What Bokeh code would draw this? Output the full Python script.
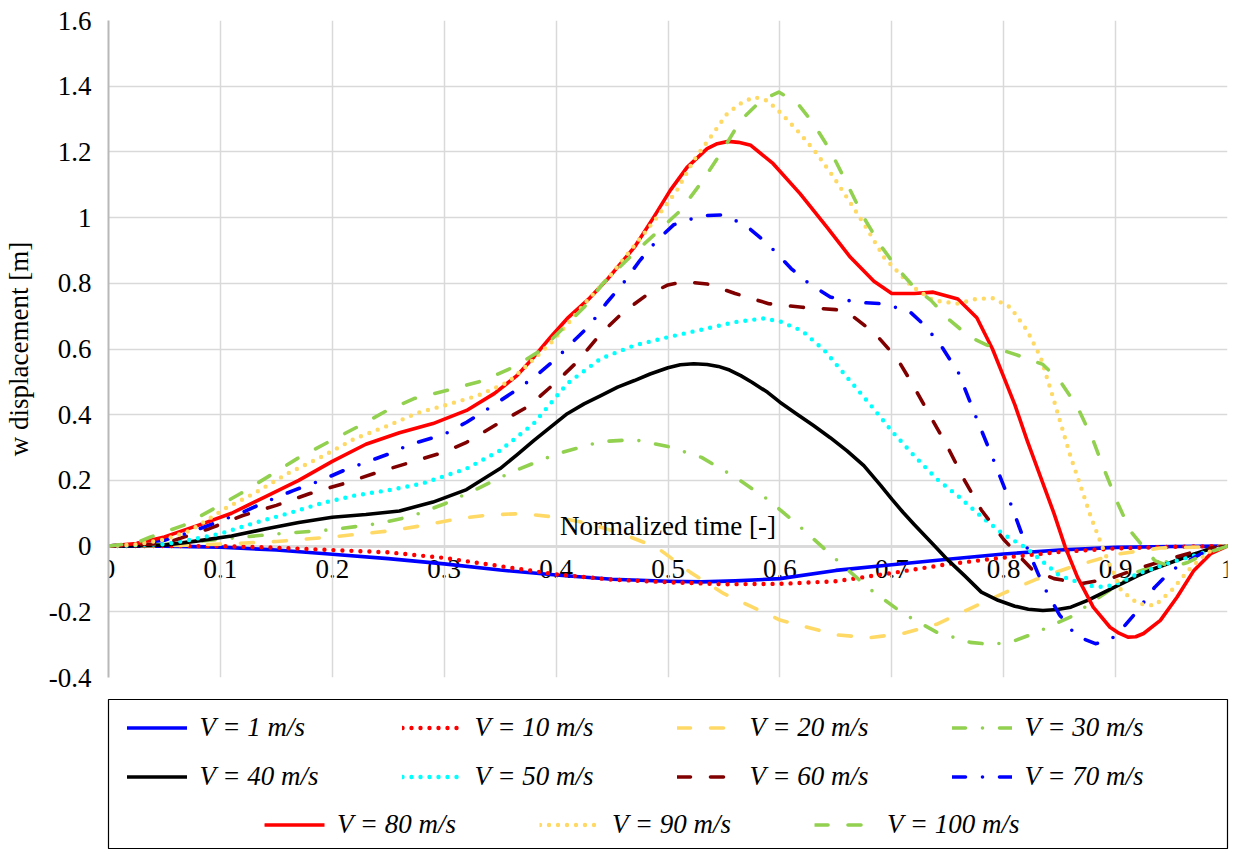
from bokeh.plotting import figure
from bokeh.models import Range1d, FixedTicker, Legend, LegendItem, Label
from bokeh.layouts import column
from bokeh.embed import file_html
from bokeh.resources import INLINE

FONT = "Liberation Serif"

# ---------------- data ----------------
x_ticks = [0, 0.1, 0.2, 0.3, 0.4, 0.5, 0.6, 0.7, 0.8, 0.9, 1]
x_tick_labels = ["0", "0.1", "0.2", "0.3", "0.4", "0.5", "0.6", "0.7", "0.8", "0.9", "1"]
y_ticks = [-0.4, -0.2, 0, 0.2, 0.4, 0.6, 0.8, 1, 1.2, 1.4, 1.6]
y_tick_labels = ["-0.4", "-0.2", "0", "0.2", "0.4", "0.6", "0.8", "1", "1.2", "1.4", "1.6"]

labels = ["V = 1 m/s", "V = 10 m/s", "V = 20 m/s", "V = 30 m/s", "V = 40 m/s", "V = 50 m/s",
          "V = 60 m/s", "V = 70 m/s", "V = 80 m/s", "V = 90 m/s", "V = 100 m/s"]

t_v1 = [0, 0.05, 0.1, 0.15, 0.2, 0.25, 0.3, 0.35, 0.4, 0.45, 0.5, 0.53, 0.56, 0.6, 0.65, 0.7, 0.75, 0.8, 0.85, 0.9, 0.95, 1]
w_v1 = [0, 0, -0.003, -0.012, -0.025, -0.038, -0.054, -0.073, -0.088, -0.101, -0.107, -0.109, -0.106, -0.099, -0.074, -0.057, -0.04, -0.024, -0.012, -0.004, -0.001, 0]

t_v10 = [0, 0.05, 0.1, 0.15, 0.2, 0.25, 0.3, 0.35, 0.4, 0.45, 0.5, 0.55, 0.6, 0.65, 0.7, 0.75, 0.8, 0.85, 0.9, 0.95, 1]
w_v10 = [0, 0, 0, -0.005, -0.012, -0.019, -0.036, -0.061, -0.086, -0.102, -0.11, -0.116, -0.115, -0.107, -0.082, -0.055, -0.035, -0.018, -0.007, -0.002, 0]

t_v20 = [0, 0.05, 0.1, 0.15, 0.2, 0.25, 0.28, 0.31, 0.34, 0.37, 0.4, 0.43, 0.46, 0.49, 0.52, 0.55, 0.6, 0.65, 0.68, 0.71, 0.74, 0.77, 0.8, 0.83, 0.86, 0.9, 0.94, 1]
w_v20 = [0, 0.001, 0.006, 0.014, 0.028, 0.046, 0.062, 0.082, 0.095, 0.099, 0.088, 0.068, 0.036, -0.004, -0.08, -0.145, -0.225, -0.27, -0.279, -0.266, -0.238, -0.19, -0.143, -0.1, -0.064, -0.025, -0.006, 0]

t_v30 = [0, 0.05, 0.1, 0.15, 0.2, 0.24, 0.27, 0.3, 0.33, 0.36, 0.4, 0.44, 0.47, 0.5, 0.53, 0.56, 0.59, 0.62, 0.65, 0.68, 0.71, 0.74, 0.77, 0.79, 0.81, 0.83, 0.86, 0.89, 0.92, 0.95, 0.98, 1]
w_v30 = [0, 0.005, 0.021, 0.037, 0.05, 0.068, 0.09, 0.128, 0.175, 0.225, 0.28, 0.318, 0.324, 0.303, 0.27, 0.21, 0.14, 0.053, -0.04, -0.13, -0.205, -0.262, -0.293, -0.3, -0.288, -0.262, -0.215, -0.145, -0.078, -0.042, -0.015, 0]

t_v40 = [0, 0.05, 0.08, 0.11, 0.14, 0.17, 0.2, 0.23, 0.26, 0.29, 0.32, 0.35, 0.365, 0.38, 0.395, 0.41, 0.425, 0.44, 0.455, 0.47, 0.484, 0.5, 0.511, 0.523, 0.535, 0.545, 0.555, 0.565, 0.575, 0.589, 0.6, 0.615, 0.63, 0.645, 0.66, 0.675, 0.69, 0.7, 0.71, 0.72, 0.73, 0.74, 0.75, 0.765, 0.78, 0.795, 0.81, 0.822, 0.835, 0.848, 0.86, 0.875, 0.89, 0.905, 0.92, 0.935, 0.95, 0.965, 0.98, 1]
w_v40 = [0, 0.003, 0.016, 0.031, 0.052, 0.072, 0.088, 0.096, 0.107, 0.134, 0.172, 0.236, 0.278, 0.321, 0.362, 0.403, 0.433, 0.458, 0.484, 0.504, 0.524, 0.543, 0.552, 0.555, 0.553, 0.547, 0.536, 0.519, 0.499, 0.468, 0.438, 0.402, 0.367, 0.33, 0.29, 0.245, 0.185, 0.143, 0.103, 0.066, 0.03, -0.006, -0.042, -0.09, -0.14, -0.165, -0.183, -0.192, -0.196, -0.193, -0.186, -0.165, -0.14, -0.115, -0.09, -0.068, -0.049, -0.03, -0.013, 0]

t_v50 = [0, 0.05, 0.07, 0.1, 0.13, 0.16, 0.19, 0.22, 0.25, 0.28, 0.32, 0.35, 0.38, 0.41, 0.44, 0.47, 0.5, 0.53, 0.56, 0.585, 0.6, 0.62, 0.64, 0.66, 0.68, 0.7, 0.72, 0.74, 0.76, 0.78, 0.8, 0.82, 0.85, 0.875, 0.89, 0.905, 0.92, 0.95, 0.98, 1]
w_v50 = [0, 0.006, 0.017, 0.038, 0.07, 0.099, 0.13, 0.154, 0.17, 0.19, 0.236, 0.291, 0.373, 0.495, 0.571, 0.611, 0.636, 0.659, 0.682, 0.693, 0.684, 0.655, 0.595, 0.514, 0.434, 0.35, 0.275, 0.205, 0.15, 0.09, 0.035, -0.005, -0.09, -0.12, -0.125, -0.11, -0.084, -0.049, -0.019, 0]

t_v60 = [0, 0.05, 0.09, 0.12, 0.15, 0.18, 0.21, 0.24, 0.27, 0.3, 0.32, 0.35, 0.375, 0.4, 0.42, 0.44, 0.46, 0.48, 0.5, 0.515, 0.535, 0.56, 0.59, 0.62, 0.65, 0.665, 0.685, 0.705, 0.72, 0.735, 0.75, 0.765, 0.78, 0.8, 0.825, 0.845, 0.87, 0.895, 0.92, 0.95, 0.98, 1]
w_v60 = [0, 0.008, 0.053, 0.093, 0.124, 0.16, 0.19, 0.224, 0.255, 0.286, 0.316, 0.377, 0.425, 0.499, 0.565, 0.647, 0.712, 0.762, 0.795, 0.805, 0.798, 0.769, 0.738, 0.727, 0.72, 0.7, 0.647, 0.57, 0.484, 0.392, 0.301, 0.2, 0.11, 0.02, -0.07, -0.099, -0.114, -0.099, -0.068, -0.037, -0.008, 0]

t_v70 = [0, 0.05, 0.073, 0.094, 0.12, 0.14, 0.165, 0.19, 0.21, 0.23, 0.25, 0.27, 0.3, 0.32, 0.34, 0.36, 0.38, 0.4, 0.415, 0.43, 0.445, 0.46, 0.475, 0.49, 0.505, 0.53, 0.55, 0.57, 0.59, 0.61, 0.625, 0.645, 0.67, 0.69, 0.715, 0.73, 0.745, 0.76, 0.775, 0.79, 0.805, 0.82, 0.835, 0.85, 0.865, 0.882, 0.895, 0.907, 0.92, 0.935, 0.95, 0.965, 0.982, 1]
w_v70 = [0, 0.018, 0.042, 0.069, 0.103, 0.134, 0.169, 0.2, 0.23, 0.255, 0.28, 0.31, 0.34, 0.377, 0.42, 0.465, 0.513, 0.57, 0.622, 0.672, 0.74, 0.8, 0.87, 0.93, 0.978, 1.006, 1.008, 0.975, 0.917, 0.845, 0.802, 0.758, 0.742, 0.738, 0.717, 0.67, 0.605, 0.525, 0.395, 0.27, 0.14, 0.002, -0.118, -0.21, -0.274, -0.297, -0.287, -0.247, -0.195, -0.125, -0.074, -0.044, -0.013, 0]

t_v80 = [0, 0.025, 0.05, 0.08, 0.11, 0.14, 0.17, 0.2, 0.23, 0.26, 0.29, 0.32, 0.345, 0.365, 0.38, 0.395, 0.41, 0.43, 0.445, 0.47, 0.487, 0.502, 0.517, 0.535, 0.544, 0.554, 0.563, 0.574, 0.594, 0.618, 0.642, 0.663, 0.684, 0.7, 0.72, 0.737, 0.759, 0.776, 0.79, 0.8, 0.81, 0.821, 0.833, 0.845, 0.855, 0.866, 0.88, 0.895, 0.903, 0.911, 0.918, 0.925, 0.94, 0.955, 0.97, 0.985, 1]
w_v80 = [0, 0.008, 0.028, 0.063, 0.1, 0.15, 0.2, 0.258, 0.31, 0.345, 0.373, 0.413, 0.465, 0.519, 0.575, 0.636, 0.693, 0.755, 0.809, 0.91, 1.0, 1.083, 1.153, 1.21, 1.225, 1.232, 1.229, 1.22, 1.164, 1.073, 0.971, 0.879, 0.806, 0.769, 0.769, 0.773, 0.752, 0.695, 0.6, 0.515, 0.43, 0.321, 0.21, 0.099, -0.003, -0.095, -0.186, -0.247, -0.265, -0.277, -0.276, -0.266, -0.226, -0.155, -0.074, -0.023, 0]

t_v90 = [0, 0.025, 0.05, 0.073, 0.106, 0.13, 0.16, 0.19, 0.22, 0.25, 0.276, 0.3, 0.33, 0.357, 0.374, 0.395, 0.413, 0.428, 0.45, 0.47, 0.49, 0.508, 0.523, 0.538, 0.553, 0.566, 0.577, 0.589, 0.603, 0.618, 0.633, 0.648, 0.663, 0.678, 0.693, 0.717, 0.737, 0.759, 0.775, 0.79, 0.806, 0.821, 0.833, 0.843, 0.851, 0.86, 0.869, 0.878, 0.887, 0.895, 0.905, 0.92, 0.935, 0.95, 0.965, 0.982, 1]
w_v90 = [0, 0.005, 0.02, 0.047, 0.118, 0.16, 0.221, 0.271, 0.327, 0.367, 0.405, 0.428, 0.458, 0.499, 0.55, 0.617, 0.687, 0.748, 0.83, 0.915, 1.0, 1.083, 1.174, 1.245, 1.317, 1.35, 1.367, 1.356, 1.311, 1.256, 1.195, 1.123, 1.045, 0.965, 0.879, 0.793, 0.748, 0.738, 0.752, 0.755, 0.727, 0.656, 0.575, 0.465, 0.373, 0.27, 0.18, 0.088, 0.008, -0.06, -0.135, -0.175, -0.181, -0.135, -0.074, -0.019, 0]

t_v100 = [0, 0.025, 0.037, 0.067, 0.091, 0.118, 0.142, 0.169, 0.196, 0.222, 0.249, 0.273, 0.306, 0.335, 0.362, 0.386, 0.407, 0.425, 0.442, 0.469, 0.49, 0.511, 0.529, 0.547, 0.565, 0.583, 0.599, 0.615, 0.63, 0.645, 0.66, 0.675, 0.69, 0.705, 0.72, 0.735, 0.752, 0.77, 0.785, 0.8, 0.821, 0.835, 0.851, 0.866, 0.88, 0.889, 0.902, 0.913, 0.925, 0.935, 0.95, 0.965, 0.98, 1]
w_v100 = [0, 0.01, 0.027, 0.063, 0.108, 0.16, 0.21, 0.267, 0.316, 0.362, 0.413, 0.449, 0.477, 0.504, 0.545, 0.595, 0.666, 0.727, 0.8, 0.89, 0.955, 1.021, 1.103, 1.195, 1.296, 1.356, 1.382, 1.351, 1.286, 1.204, 1.103, 1.0, 0.915, 0.845, 0.788, 0.748, 0.687, 0.636, 0.612, 0.595, 0.571, 0.553, 0.499, 0.423, 0.321, 0.24, 0.13, 0.047, -0.003, -0.044, -0.064, -0.049, -0.023, 0]

# ---------------- styles ----------------
DOT = "0 9"
DASH = "13 20"
DASHDOT = "13 17 0 17"
LW = 3.6
LW_DOT = 4.4
styles = [
    dict(line_color="#0000FF", line_dash="solid", line_width=LW),
    dict(line_color="#FF0000", line_dash=DOT, line_width=LW_DOT),
    dict(line_color="#FFD966", line_dash=DASH, line_width=LW),
    dict(line_color="#92D050", line_dash=DASHDOT, line_width=LW),
    dict(line_color="#000000", line_dash="solid", line_width=LW),
    dict(line_color="#00FFFF", line_dash=DOT, line_width=LW_DOT),
    dict(line_color="#800000", line_dash=DASH, line_width=LW),
    dict(line_color="#0000FF", line_dash=DASHDOT, line_width=LW),
    dict(line_color="#FF0000", line_dash="solid", line_width=LW),
    dict(line_color="#FFD966", line_dash=DOT, line_width=LW_DOT),
    dict(line_color="#92D050", line_dash=DASH, line_width=LW),
]
series_t = [t_v1, t_v10, t_v20, t_v30, t_v40, t_v50, t_v60, t_v70, t_v80, t_v90, t_v100]
series_w = [w_v1, w_v10, w_v20, w_v30, w_v40, w_v50, w_v60, w_v70, w_v80, w_v90, w_v100]

W = 1234

# ---------------- main plot ----------------
p = figure(width=W, height=693, x_range=Range1d(0, 1), y_range=Range1d(-0.4, 1.6),
           output_backend="svg", toolbar_location=None,
           min_border_left=108, min_border_right=7, min_border_top=20, min_border_bottom=16)
p.outline_line_color = None
p.background_fill_color = "white"

GRID = "#d9d9d9"
AXIS = "#b8b8b8"

xa = p.xaxis[0]
xa.fixed_location = 0
xa.ticker = FixedTicker(ticks=x_ticks)
xa.major_label_overrides = dict(zip(x_ticks, x_tick_labels))
xa.major_tick_line_color = None
xa.minor_tick_line_color = None
xa.axis_line_color = AXIS
xa.axis_line_width = 2
xa.major_label_standoff = 8
xa.major_label_text_font = FONT
xa.major_label_text_font_size = "27px"
xa.major_label_text_color = "black"
xa.level = "underlay"

ya = p.yaxis[0]
ya.ticker = FixedTicker(ticks=y_ticks)
ya.major_label_overrides = dict(zip(y_ticks, y_tick_labels))
ya.major_tick_line_color = None
ya.minor_tick_line_color = None
ya.axis_line_color = AXIS
ya.axis_line_width = 2
ya.major_label_standoff = 11
ya.major_label_text_font = FONT
ya.major_label_text_font_size = "27px"
ya.major_label_text_color = "black"
ya.axis_label = "w displacement [m]"
ya.axis_label_text_font = FONT
ya.axis_label_text_font_size = "27px"
ya.axis_label_text_font_style = "normal"
ya.axis_label_text_color = "black"
ya.axis_label_standoff = 12

p.xgrid.ticker = FixedTicker(ticks=x_ticks)
p.ygrid.ticker = FixedTicker(ticks=y_ticks)
p.grid.grid_line_color = GRID
p.grid.grid_line_width = 1.5

for t, w, st in zip(series_t, series_w, styles):
    p.line(t, w, line_cap="round", line_join="round", **st)

p.add_layout(Label(x=0.5, y=0, text="Normalized time [-]", text_align="center",
                   text_baseline="alphabetic", y_offset=20, text_font=FONT,
                   text_font_size="27px", text_color="black"))

# ---------------- legend panel ----------------
# The legend panel's y range lies far above the data, so its line renderers
# (used only for the legend glyphs) are clipped away and never visible.
lf = figure(width=W, height=156, x_range=Range1d(0, 1), y_range=Range1d(10, 11),
            output_backend="svg", toolbar_location=None,
            x_axis_location=None, y_axis_location=None,
            min_border_left=108, min_border_right=7, min_border_top=6, min_border_bottom=0)
lf.grid.visible = False
lf.outline_line_color = "black"
lf.outline_line_width = 1.2

items = []
for lab, t, w, st in zip(labels, series_t, series_w, styles):
    r = lf.line(t, w, line_cap="round", **st)
    items.append(LegendItem(label=lab, renderers=[r]))

common = dict(orientation="horizontal", spacing=18, glyph_width=60, glyph_height=31,
              label_standoff=13, label_width=184, label_height=31,
              border_line_color=None, background_fill_alpha=0,
              label_text_font=FONT, label_text_font_size="27px",
              label_text_font_style="italic", label_text_color="black")
leg1 = Legend(items=items[:8], ncols=4, location="top_center", margin=13, padding=12, **common)
leg2 = Legend(items=items[8:], ncols=3, location="top_center", margin=110, padding=12, **common)
lf.add_layout(leg1)
lf.add_layout(leg2)

layout = column(p, lf)
open("out.html", "w").write(file_html(layout, INLINE))
